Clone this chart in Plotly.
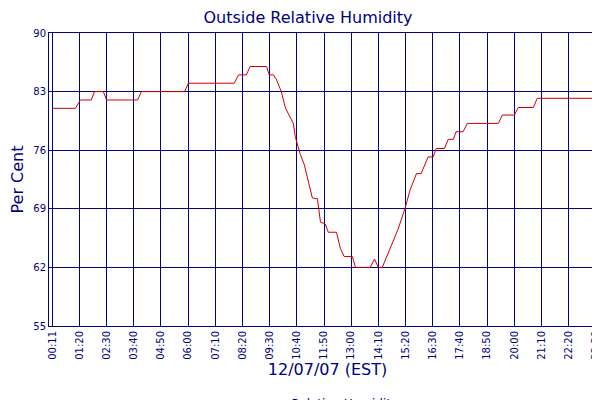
import plotly.graph_objects as go

times = ["00:11","01:10","01:23","01:51","01:59","02:22","02:30","03:50","04:00","05:51","06:01","07:59",
         "08:10","08:30","08:40","09:22","09:29","09:40","09:47","10:00","10:11","10:23","10:31","10:36",
         "10:41","10:49","10:59","11:10","11:20","11:33","11:41","11:53","12:01","12:22","12:32","12:42",
         "13:03","13:11","13:49","14:00","14:10","14:20","14:41","15:01","15:19","15:32","15:48","16:00",
         "16:18","16:31","16:39","17:00","17:10","17:23","17:30","17:48","17:59","19:19","19:29","20:00",
         "20:10","20:49","20:59","23:28","23:38","23:54"]
humidity = [81,81,82,82,83,83,82,82,83,83,84,84,
            85,85,86,86,85,85,84.5,83,81,80,79.2,77.6,
            76.8,75.5,74.3,72.1,70.3,70.2,67.4,67.2,66.2,66.2,64.3,63.3,
            63.3,62,62,63,62,62,64.3,66.6,69.1,71.3,73.2,73.2,
            75.2,75.2,76.2,76.2,77.3,77.3,78.2,78.2,79.2,79.2,80.2,80.2,
            81.1,81.1,82.2,82.2,83.1,83.1]
tick_labels = ["00:11","01:20","02:30","03:40","04:50","06:00","07:10","08:20","09:30","10:40","11:50",
               "13:00","14:10","15:20","16:30","17:40","18:50","20:00","21:10","22:20","23:30","23:50"]
y_ticks = [55, 62, 69, 76, 83, 90]

def to_min(s):
    h, m = s.split(":")
    return int(h) * 60 + int(m)

navy = "#000080"
fig = go.Figure(go.Scatter(x=[to_min(t) for t in times], y=humidity, mode="lines",
                           line=dict(color="#cc0000", width=1), name="Relative Humidity"))
fig.update_layout(
    width=600, height=400, margin=dict(l=41, r=2, t=25, b=82, autoexpand=False),
    paper_bgcolor="white", plot_bgcolor="white",
    font=dict(family="DejaVu Sans", color=navy, size=10),
    title=dict(text="Outside Relative Humidity", x=0.5, xanchor="center", y=0.99, yanchor="top",
               font=dict(size=16, color=navy)),
    showlegend=True,
    legend=dict(orientation="h", x=0.5, xanchor="center", y=-0.215, yanchor="top", font=dict(size=12)),
)
fig.update_xaxes(range=[2, 1436], tickvals=[to_min(t) for t in tick_labels], ticktext=tick_labels,
                 tickangle=-90, showgrid=True, gridcolor=navy, gridwidth=1, showline=True,
                 linecolor=navy, mirror=True, zeroline=False, ticks="", tickfont=dict(size=10),
                 automargin=False,
                 title=dict(text="12/07/07 (EST)", font=dict(size=16), standoff=4))
fig.update_yaxes(range=[55, 90], tickvals=y_ticks, showgrid=True, gridcolor=navy, gridwidth=1,
                 showline=True, linecolor=navy, mirror=True, zeroline=False, ticks="", automargin=False,
                 tickfont=dict(size=10), title=dict(text="Per Cent", font=dict(size=16), standoff=6))
fig.write_html("out.html")
